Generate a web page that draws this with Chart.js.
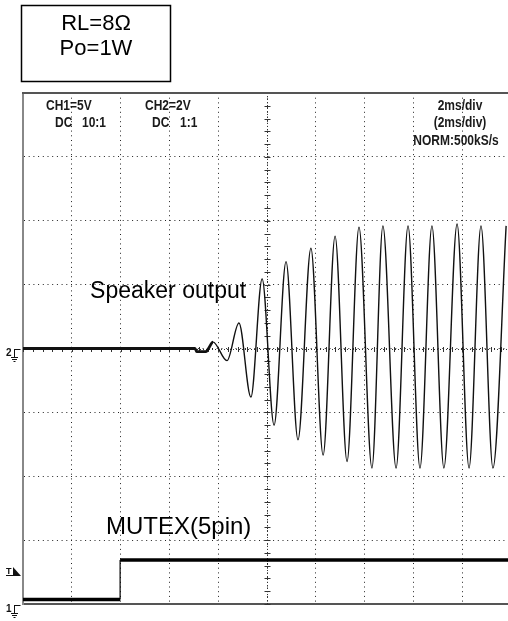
<!DOCTYPE html>
<html>
<head>
<meta charset="utf-8">
<script src="https://cdn.jsdelivr.net/npm/chart.js@4.4.1/dist/chart.umd.min.js"></script>
<style>
  html, body { margin: 0; padding: 0; background: #fff; overflow: hidden; }
  #wrap { position: relative; width: 512px; height: 621px; }
</style>
</head>
<body>
<div id="wrap"><canvas id="scope"></canvas></div>
<script>
// time in ms (2 ms/div, 10 div), level in screen divisions from the centre (8 div)
const speakerTime  = [0, 7.05, 7.12, 7.5, 7.6, 7.79, 8.36, 8.85, 9.34, 9.80, 10.29, 10.78, 11.27, 11.80, 12.30,
                      12.79, 13.28, 13.77, 14.30, 14.75, 15.29, 15.78, 16.27, 16.76, 17.25, 17.79, 18.28, 18.77, 19.26, 19.80];
const speakerLevel = [0, 0, -0.05, -0.05, 0, 0.10, -0.19, 0.40, -0.76, 1.09, -1.20, 1.36, -1.43, 1.57, -1.67,
                      1.76, -1.77, 1.90, -1.87, 1.92, -1.87, 1.92, -1.87, 1.92, -1.87, 1.95, -1.87, 1.92, -1.87, 1.92];
const muteTime  = [0, 3.98, 3.98, 20];
const muteLevel = [-3.93, -3.93, -3.31, -3.31];

const ch2Ground = 0;
const ch1Ground = -4;
const triggerLevel = -3.54;

const conditions = ["RL=8\u03A9", "Po=1W"];
const ch1Label = ["CH1=5V", "DC", "10:1"];
const ch2Label = ["CH2=2V", "DC", "1:1"];
const timeLabel = ["2ms/div", "(2ms/div)", "NORM:500kS/s"];
const traceNames = ["Speaker output", "MUTEX(5pin)"];

function toPoints(xs, ys) {
  return xs.map((t, i) => ({ x: t, y: ys[i] }));
}

function condensed(ctx, text, x, y, align) {
  const k = 0.8;
  ctx.save();
  ctx.font = 'bold 15px "Liberation Sans", Arial, sans-serif';
  ctx.fillStyle = '#1a1a1a';
  ctx.textBaseline = 'alphabetic';
  const w = ctx.measureText(text).width * k;
  let left = x;
  if (align === 'center') left = x - w / 2;
  if (align === 'right') left = x - w;
  ctx.translate(left, y);
  ctx.scale(k, 1);
  ctx.fillText(text, 0, 0);
  ctx.restore();
}

function groundMark(ctx, digit, py) {
  const px = 14.5;
  ctx.save();
  ctx.fillStyle = '#111';
  ctx.strokeStyle = '#111';
  ctx.lineWidth = 1;
  ctx.font = 'bold 10px "Liberation Sans", Arial, sans-serif';
  ctx.textBaseline = 'alphabetic';
  ctx.fillText(digit, 6, py + 7);
  ctx.beginPath();
  ctx.moveTo(px, py + 0.5); ctx.lineTo(px + 6, py + 0.5);
  ctx.moveTo(px, py); ctx.lineTo(px, py + 8);
  ctx.moveTo(px - 3.5, py + 8.5); ctx.lineTo(px + 3.5, py + 8.5);
  ctx.moveTo(px - 2.5, py + 10.5); ctx.lineTo(px + 2.5, py + 10.5);
  ctx.moveTo(px - 1, py + 12.5); ctx.lineTo(px + 1, py + 12.5);
  ctx.stroke();
  ctx.restore();
}

const scopeDecor = {
  id: 'scopeDecor',
  beforeDatasetsDraw(chart) {
    const { ctx, chartArea: a, scales: { x, y } } = chart;
    const cx = Math.round(x.getPixelForValue(10)) + 0.5;
    const cy = Math.round(y.getPixelForValue(0)) + 0.5;
    ctx.save();
    ctx.strokeStyle = '#333';
    ctx.lineWidth = 1;
    ctx.setLineDash([1, 2]);
    ctx.beginPath();
    ctx.moveTo(cx, a.top); ctx.lineTo(cx, a.bottom);
    ctx.moveTo(a.left, cy); ctx.lineTo(a.right, cy);
    ctx.stroke();
    ctx.setLineDash([]);
    ctx.beginPath();
    for (let v = -4; v <= 4.001; v += 0.2) {
      const py = Math.round(y.getPixelForValue(v)) + 0.5;
      ctx.moveTo(cx - 3, py); ctx.lineTo(cx + 3, py);
    }
    for (let t = 0; t <= 20.001; t += 0.4) {
      const px = Math.round(x.getPixelForValue(t)) + 0.5;
      ctx.moveTo(px, cy - 2.5); ctx.lineTo(px, cy + 2.5);
    }
    ctx.stroke();
    ctx.restore();
  },
  afterDraw(chart) {
    const { ctx, chartArea: a, scales: { x, y } } = chart;
    ctx.save();
    // top frame edge
    ctx.strokeStyle = '#555';
    ctx.lineWidth = 2;
    ctx.beginPath();
    ctx.moveTo(a.left - 1, a.top);
    ctx.lineTo(chart.width, a.top);
    ctx.stroke();

    // condition box
    ctx.strokeStyle = '#000';
    ctx.lineWidth = 1.5;
    ctx.strokeRect(21.5, 5.5, 149, 76);
    ctx.fillStyle = '#000';
    ctx.font = '22px "Liberation Sans", Arial, sans-serif';
    ctx.textAlign = 'center';
    ctx.textBaseline = 'alphabetic';
    ctx.fillText(conditions[0], 96, 30);
    ctx.fillText(conditions[1], 96, 55);

    // trace names
    ctx.textAlign = 'left';
    ctx.font = '23px "Liberation Sans", Arial, sans-serif';
    ctx.fillText(traceNames[0], x.getPixelForValue(2.75), y.getPixelForValue(0.79));
    ctx.font = '24px "Liberation Sans", Arial, sans-serif';
    ctx.fillText(traceNames[1], x.getPixelForValue(3.4), y.getPixelForValue(-2.904));
    ctx.restore();

    // scope readouts
    condensed(ctx, ch1Label[0], 46, 110, 'left');
    condensed(ctx, ch1Label[1], 55, 127, 'left');
    condensed(ctx, ch1Label[2], 82, 127, 'left');
    condensed(ctx, ch2Label[0], 145, 110, 'left');
    condensed(ctx, ch2Label[1], 152, 127, 'left');
    condensed(ctx, ch2Label[2], 180, 127, 'left');
    condensed(ctx, timeLabel[0], 460, 110, 'center');
    condensed(ctx, timeLabel[1], 460, 127, 'center');
    condensed(ctx, timeLabel[2], 456, 145, 'center');

    // channel ground and trigger markers
    groundMark(ctx, '2', Math.round(y.getPixelForValue(ch2Ground)));
    groundMark(ctx, '1', Math.round(y.getPixelForValue(ch1Ground)) + 1);
    const ty = Math.round(y.getPixelForValue(triggerLevel));
    ctx.save();
    ctx.fillStyle = '#111';
    ctx.font = 'bold 9px "Liberation Sans", Arial, sans-serif';
    ctx.fillText('T', 6, ty - 1);
    ctx.fillRect(6, ty, 7, 1);
    ctx.beginPath();
    ctx.moveTo(13, ty - 8);
    ctx.lineTo(13, ty + 1);
    ctx.lineTo(21, ty + 1);
    ctx.closePath();
    ctx.fill();
    ctx.restore();
  }
};

const gridDots = {
  color: '#222',
  lineWidth: 1,
  drawTicks: false
};

new Chart(document.getElementById('scope').getContext('2d'), {
  type: 'line',
  data: {
    datasets: [
      {
        label: traceNames[0],
        data: toPoints(speakerTime, speakerLevel),
        borderColor: '#111',
        borderWidth: 1.4,
        cubicInterpolationMode: 'monotone',
        pointRadius: 0,
        fill: false,
        segment: {
          borderWidth: c => (c.p1.parsed.x <= 7.79 ? 2.8 : 1.4)
        }
      },
      {
        label: traceNames[1],
        data: toPoints(muteTime, muteLevel),
        borderColor: '#000',
        borderWidth: 3.5,
        pointRadius: 0,
        fill: false,
        segment: {
          borderWidth: c => (c.p0.parsed.x === c.p1.parsed.x ? 1.2 : 3.5)
        }
      }
    ]
  },
  options: {
    responsive: true,
    maintainAspectRatio: false,
    animation: false,
    devicePixelRatio: 1,
    layout: { padding: { left: 23, top: 93, right: 1, bottom: 17 } },
    plugins: {
      legend: { display: false },
      tooltip: { enabled: false },
      title: { display: false }
    },
    scales: {
      x: {
        type: 'linear',
        min: 0,
        max: 20,
        ticks: { display: false, stepSize: 2 },
        grid: gridDots,
        border: { display: true, color: '#555', width: 2, dash: [1, 3.7] },
        afterFit: s => { s.height = 0; }
      },
      y: {
        type: 'linear',
        min: -4,
        max: 4,
        ticks: { display: false, stepSize: 1 },
        grid: gridDots,
        border: { display: true, color: '#888', width: 2, dash: [1, 3.7] },
        afterFit: s => { s.width = 0; }
      }
    }
  },
  plugins: [scopeDecor]
});
</script>
</body>
</html>
